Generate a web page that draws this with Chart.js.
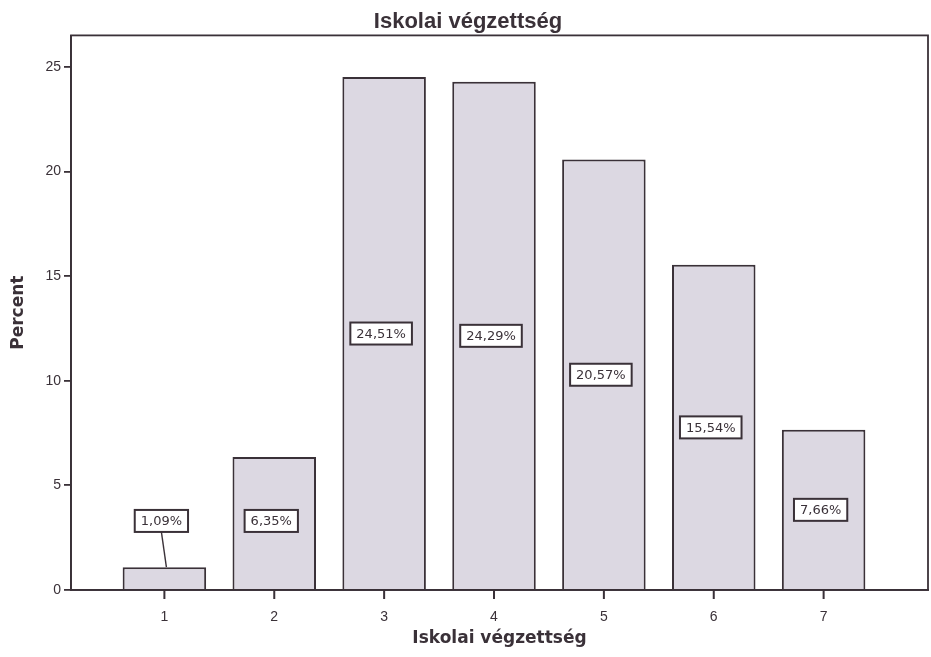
<!DOCTYPE html>
<html>
<head>
<meta charset="utf-8">
<style>
    body {
        margin: 0;
        background: #ffffff;
    }
    .chart {
        width: 931px;
        height: 657px;
    }
</style>
<script src="https://cdn.jsdelivr.net/npm/chart.js"></script>
</head>
<body>
<div class="chart">
    <canvas id="myChart" role="img" aria-label="Iskolai végzettség"></canvas>
</div>
<script type="text/javascript">
    // values
    const categories = [1, 2, 3, 4, 5, 6, 7]
    const percents = [1.09, 6.35, 24.51, 24.29, 20.57, 15.54, 7.66]
    const yTicks = [0, 5, 10, 15, 20, 25]

    const ink = '#3a3138'
    const ctx = document.getElementById('myChart')

    // frame around the plot area (top + right edges, like SPSS) and x tick marks
    const frame = {
        id: 'frame',
        afterDraw(chart) {
            const a = chart.chartArea
            const c = chart.ctx
            const x = chart.scales.x
            c.save()
            c.strokeStyle = ink
            c.lineWidth = 1.8
            c.strokeRect(a.left, a.top, a.right - a.left, a.bottom - a.top)
            c.fillStyle = ink
            x.ticks.forEach(t => {
                const px = x.getPixelForValue(t.value)
                c.fillRect(px - 1, a.bottom, 2, 9)
            })
            c.restore()
        }
    }

    // boxed percent labels in the middle of each bar
    const boxLabels = {
        id: 'boxLabels',
        afterDatasetsDraw(chart) {
            const c = chart.ctx
            const y = chart.scales.y
            const meta = chart.getDatasetMeta(0)
            c.save()
            c.font = '13px "DejaVu Sans"'
            c.textAlign = 'center'
            c.textBaseline = 'middle'
            meta.data.forEach((bar, i) => {
                const v = percents[i]
                const txt = v.toFixed(2).replace('.', ',') + '%'
                const mid = Math.max(v / 2, 3.3)
                const cy = y.getPixelForValue(mid)
                const w = c.measureText(txt).width + 12
                const h = 22
                const cx = bar.x - 3
                if (cy + h / 2 < bar.y) {
                    // leader line down to the short bar
                    c.strokeStyle = ink
                    c.lineWidth = 1.4
                    c.beginPath()
                    c.moveTo(cx, cy + h / 2)
                    c.lineTo(cx + 5, bar.y)
                    c.stroke()
                }
                c.fillStyle = '#ffffff'
                c.fillRect(cx - w / 2, cy - h / 2, w, h)
                c.strokeStyle = ink
                c.lineWidth = 2
                c.strokeRect(cx - w / 2, cy - h / 2, w, h)
                c.fillStyle = ink
                c.fillText(txt, cx, cy + 1)
            })
            c.restore()
        }
    }

    var chart = new Chart(ctx, {
        type: 'bar',
        data: {
            datasets: [{
                label: 'Percent',
                data: categories.map((c, i) => ({x: c, y: percents[i]})),
                backgroundColor: '#dcd8e2',
                borderColor: ink,
                borderWidth: 2,
                borderSkipped: 'bottom',
                barPercentage: 0.76,
                categoryPercentage: 1
            }]
        },
        options: {
            responsive: true,
            maintainAspectRatio: false,
            animation: false,
            layout: {
                padding: {left: 8, right: 3, top: 0, bottom: 6}
            },
            plugins: {
                legend: {display: false},
                tooltip: {enabled: false},
                title: {
                    display: true,
                    text: 'Iskolai végzettség',
                    color: ink,
                    font: {family: '"Liberation Sans", Arial', size: 22, weight: 'bold'},
                    padding: {top: 9, bottom: 0}
                }
            },
            scales: {
                x: {
                    type: 'linear',
                    offset: false,
                    min: 0.15,
                    max: 7.95,
                    afterBuildTicks: (scale) => { scale.ticks = categories.map(v => ({value: v})) },
                    afterFit: (scale) => { scale.height = 61 },
                    grid: {display: false},
                    border: {color: ink, width: 1.8},
                    ticks: {color: ink, font: {family: '"Liberation Sans", Arial', size: 14}, padding: 11},
                    title: {
                        display: true,
                        text: 'Iskolai végzettség',
                        color: ink,
                        font: {family: '"DejaVu Sans"', size: 17, weight: 'bold'},
                        padding: {top: 4, bottom: 2}
                    }
                },
                y: {
                    min: 0,
                    max: 26.5,
                    afterBuildTicks: (scale) => { scale.ticks = yTicks.map(v => ({value: v})) },
                    afterFit: (scale) => { scale.width = 63 },
                    grid: {drawOnChartArea: false, drawTicks: true, tickLength: 7, color: ink, lineWidth: 1.8},
                    border: {color: ink, width: 1.8},
                    ticks: {color: ink, font: {family: '"Liberation Sans", Arial', size: 14}, padding: 3},
                    title: {
                        display: true,
                        text: 'Percent',
                        color: ink,
                        font: {family: '"DejaVu Sans"', size: 17, weight: 'bold'},
                        padding: {top: 0, bottom: 8}
                    }
                }
            }
        },
        plugins: [frame, boxLabels]
    });
</script>
</body>
</html>
